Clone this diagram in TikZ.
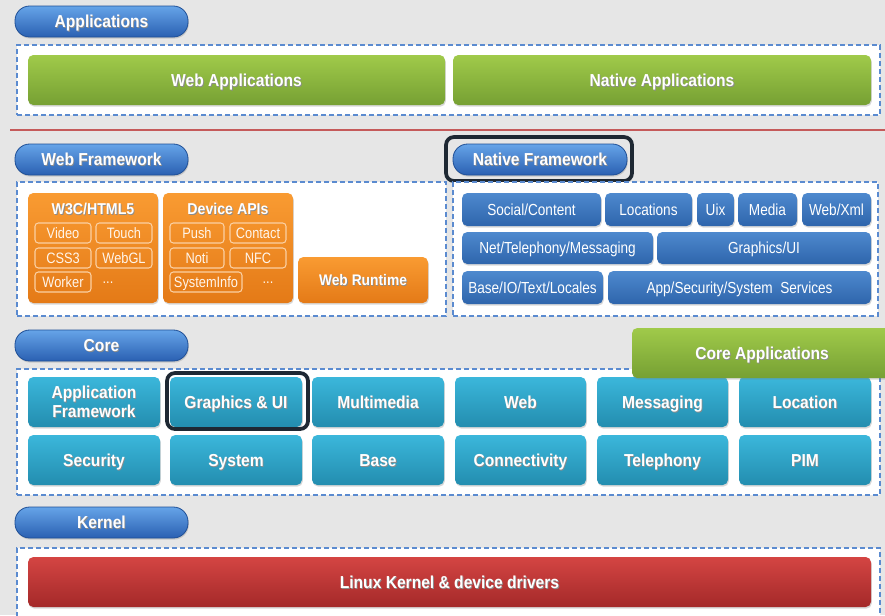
\documentclass[tikz,border=0pt]{standalone}
\usepackage{fontspec}
\setmainfont{Liberation Sans}[FakeStretch=0.9]
\newfontfamily\nfont{Liberation Sans}[FakeStretch=0.85]
\usetikzlibrary{shadows}

\definecolor{bgc}{HTML}{E6E6E6}
\definecolor{dashc}{HTML}{5B8BD0}
\definecolor{pilltop}{HTML}{66A4E8}
\definecolor{pillbot}{HTML}{2A60B2}
\definecolor{pillrim}{HTML}{1F4F96}
\definecolor{greentop}{HTML}{A0CA4A}
\definecolor{greenbot}{HTML}{76A033}
\definecolor{orangetop}{HTML}{F99B32}
\definecolor{orangebot}{HTML}{E47A17}
\definecolor{orangerim}{HTML}{FBD0A3}
\definecolor{navtop}{HTML}{4E89CE}
\definecolor{navbot}{HTML}{2E65AC}
\definecolor{tealtop}{HTML}{3BB7DB}
\definecolor{tealbot}{HTML}{238DAF}
\definecolor{redtop}{HTML}{D44543}
\definecolor{redbot}{HTML}{A42929}
\definecolor{hilite}{HTML}{1E2833}
\definecolor{rulered}{HTML}{C55A5A}

% white text with a soft dark shadow
\newcommand\sh[1]{\leavevmode\rlap{\kern0.6pt\raisebox{-0.7pt}{\textcolor{black!45}{#1}}}#1}
% \bx{name}{style}{x1}{y1}{x2}{y2}{text}: box given by its corners
\newcommand\bx[7]{\node[#2, minimum width={(#5-#3)*0.75pt}, minimum height={(#6-#4)*0.75pt}] (#1) at ({(#3+#5)/2},{(#4+#6)/2}) {#7};}

\tikzset{
  boxbase/.style={inner sep=0pt, outer sep=0pt, align=center},
  boxshadow/.style={drop shadow={opacity=0.3, shadow xshift=0.6pt, shadow yshift=-1.2pt}},
  % capitals centred in their box
  cap13/.style={text height=9.3pt, text depth=0pt},
  cap12/.style={text height=8.6pt, text depth=0pt},
  cap11/.style={text height=8.2pt, text depth=0pt},
  pill/.style={boxbase, boxshadow, cap13, top color=pilltop, bottom color=pillbot, draw=pillrim,
    line width=0.6pt, rounded corners=11pt, text=white,
    font=\bfseries\fontsize{13}{15}\selectfont},
  panel/.style={boxbase, fill=white, draw=dashc, line width=1.3pt,
    dash pattern=on 3.8pt off 2.2pt},
  greenbox/.style={boxbase, boxshadow, cap13, top color=greentop, bottom color=greenbot,
    rounded corners=4pt, text=white, font=\bfseries\fontsize{13}{15}\selectfont},
  orangebox/.style={boxbase, boxshadow, cap11, top color=orangetop, bottom color=orangebot,
    rounded corners=4pt, text=white, font=\bfseries\fontsize{11.5}{14}\selectfont},
  orangetitle/.style={inner sep=0pt, cap11, text=white, font=\bfseries\fontsize{11.8}{14}\selectfont},
  apibox/.style={boxbase, cap11, draw=orangerim, line width=0.8pt, rounded corners=2.5pt,
    text=white!92!orange, font=\nfont\fontsize{11.3}{13}\selectfont},
  apidots/.style={inner sep=0pt, text=white!92!orange, font=\nfont\fontsize{11.3}{13}\selectfont},
  navbox/.style={boxbase, boxshadow, cap12, top color=navtop, bottom color=navbot,
    rounded corners=4pt, text=white, font=\nfont\fontsize{12}{14}\selectfont},
  tealbox/.style={boxbase, boxshadow, cap13, top color=tealtop, bottom color=tealbot,
    rounded corners=4pt, text=white, font=\bfseries\fontsize{13}{15}\selectfont},
  tealtwo/.style={boxbase, boxshadow, top color=tealtop, bottom color=tealbot,
    rounded corners=4pt, text=white, font=\bfseries\fontsize{13}{15}\selectfont},
  redbox/.style={boxbase, boxshadow, cap13, top color=redtop, bottom color=redbot,
    rounded corners=4pt, text=white, font=\bfseries\fontsize{13}{15}\selectfont},
  hibox/.style={boxbase, draw=hilite, line width=2.8pt, rounded corners=6pt},
}

\begin{document}
\begin{tikzpicture}[x=0.75pt, y=-0.75pt]
\fill[bgc] (0,0) rectangle (885,615);
\useasboundingbox (0,0) rectangle (885,615);

% ---------------- Applications layer
\bx{appl}{pill}{15}{6}{188}{37}{\sh{Applications}}
\bx{applpanel}{panel}{17}{45}{880}{115}{}
\bx{webapps}{greenbox}{28}{55}{445}{105}{\sh{Web Applications}}
\bx{natapps}{greenbox}{453}{55}{871}{105}{\sh{Native Applications}}

% separator rule
\coordinate (ruleL) at (10,130);
\coordinate (ruleR) at (885,130);
\draw[rulered, line width=1.7pt] (ruleL) -- (ruleR);

% ---------------- Web framework
\bx{webfw}{pill}{15}{144}{188}{175}{\sh{Web Framework}}
\bx{webpanel}{panel}{17}{182}{446}{316}{}
\bx{w3c}{orangebox}{28}{193}{158}{303}{}
\node[orangetitle] (w3ct) at (93,209) {\sh{W3C/HTML5}};
\bx{video}{apibox}{35}{223}{91}{243}{Video}
\bx{touch}{apibox}{96}{223}{152}{243}{Touch}
\bx{css}{apibox}{35}{248}{91}{268}{CSS3}
\bx{webgl}{apibox}{96}{248}{152}{268}{WebGL}
\bx{worker}{apibox}{35}{272}{91}{292}{Worker}
\node[apidots] (w3cdots) at (108,283) {...};

\bx{dev}{orangebox}{163}{193}{293}{303}{}
\node[orangetitle] (devt) at (228,209) {\sh{Device APIs}};
\bx{push}{apibox}{170}{223}{224}{243}{Push}
\bx{contact}{apibox}{230}{223}{286}{243}{Contact}
\bx{noti}{apibox}{170}{248}{224}{268}{Noti}
\bx{nfc}{apibox}{230}{248}{286}{268}{NFC}
\bx{sysinfo}{apibox}{170}{272}{242}{292}{SystemInfo}
\node[apidots] (devdots) at (268,283) {...};

\bx{runtime}{orangebox}{298}{257}{428}{303}{\sh{Web Runtime}}

% ---------------- Native framework
\bx{natfw}{pill}{453}{144}{627}{175}{\sh{Native Framework}}
\bx{natfwhi}{hibox}{446}{137}{632}{181}{}
\bx{natpanel}{panel}{453}{182}{878}{316}{}
\bx{social}{navbox}{462}{193}{601}{226}{Social/Content}
\bx{locs}{navbox}{605}{193}{692}{226}{Locations}
\bx{uix}{navbox}{697}{193}{734}{226}{Uix}
\bx{media}{navbox}{738}{193}{797}{226}{Media}
\bx{webxml}{navbox}{802}{193}{871}{226}{Web/Xml}
\bx{net}{navbox}{462}{232}{653}{264}{Net/Telephony/Messaging}
\bx{gfx}{navbox}{657}{232}{871}{264}{Graphics/UI}
\bx{baseio}{navbox}{462}{271}{603}{304}{Base/IO/Text/Locales}
\bx{appsec}{navbox}{608}{271}{871}{304}{App/Security/System\ \ Services}

% ---------------- Core
\bx{core}{pill}{15}{330}{188}{361}{\sh{Core}}
\bx{corepanel}{panel}{17}{369}{880}{495}{}
\bx{appfw}{tealtwo}{28}{377}{160}{427}{\raisebox{-1.5pt}{\sh{Application}}\\[-1pt]\raisebox{-1.5pt}{\sh{Framework}}}
\bx{gfxui}{tealbox}{170}{377}{302}{427}{\sh{Graphics \& UI}}
\bx{mm}{tealbox}{312}{377}{444}{427}{\sh{Multimedia}}
\bx{web}{tealbox}{455}{377}{586}{427}{\sh{Web}}
\bx{msg}{tealbox}{597}{377}{728}{427}{\sh{Messaging}}
\bx{loc}{tealbox}{739}{377}{871}{427}{\sh{Location}}
\bx{sec}{tealbox}{28}{435}{160}{485}{\sh{Security}}
\bx{sys}{tealbox}{170}{435}{302}{485}{\sh{System}}
\bx{base}{tealbox}{312}{435}{444}{485}{\sh{Base}}
\bx{conn}{tealbox}{455}{435}{586}{485}{\sh{Connectivity}}
\bx{tel}{tealbox}{597}{435}{728}{485}{\sh{Telephony}}
\bx{pim}{tealbox}{739}{435}{871}{485}{\sh{PIM}}
\bx{gfxuihi}{hibox}{167}{373}{308}{429}{}
\bx{coreapps}{greenbox}{632}{328}{892}{378}{\sh{Core Applications}}

% ---------------- Kernel
\bx{kernel}{pill}{15}{507}{188}{538}{\sh{Kernel}}
\bx{kernpanel}{panel}{17}{548}{880}{630}{}
\bx{linux}{redbox}{28}{557}{871}{607}{\sh{Linux Kernel \& device drivers}}
\end{tikzpicture}
\end{document}
